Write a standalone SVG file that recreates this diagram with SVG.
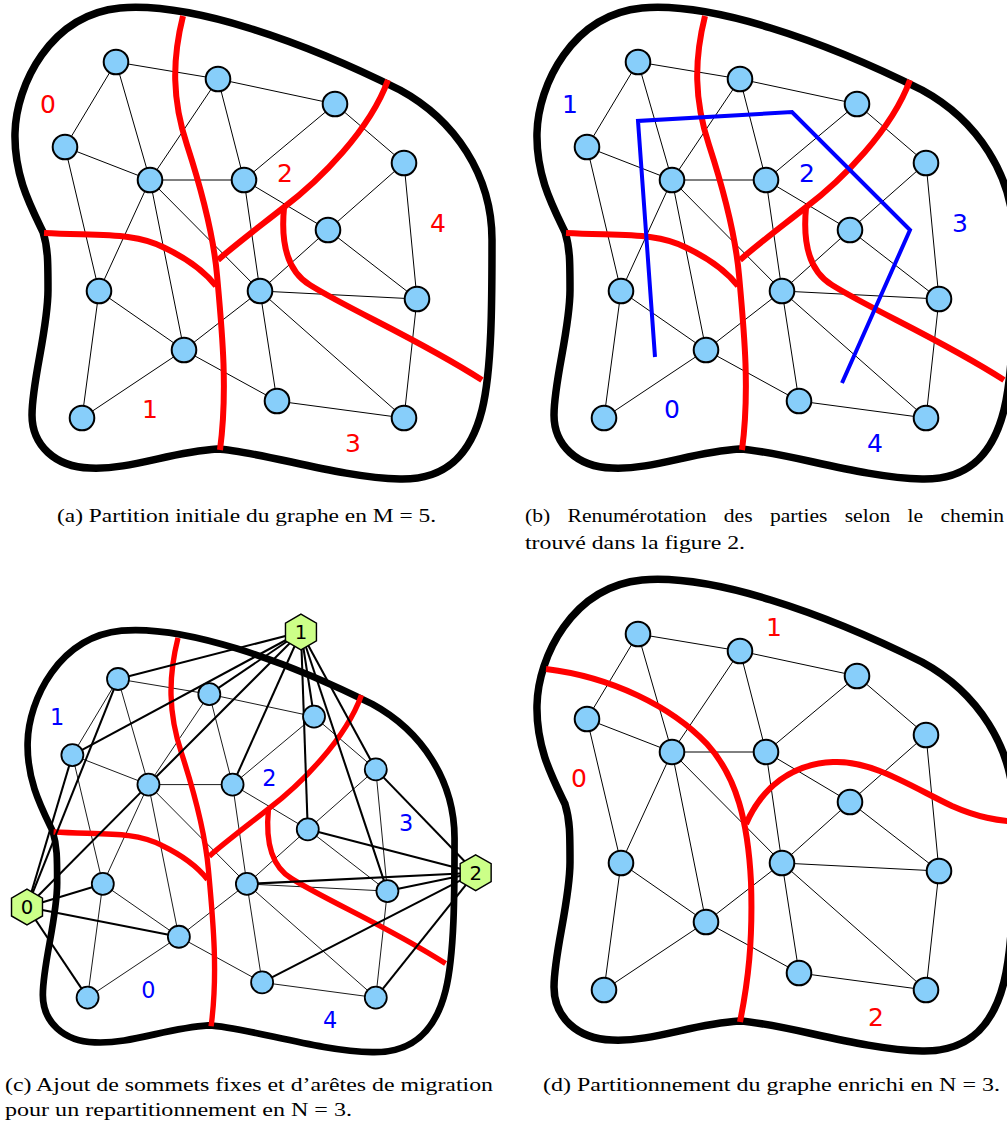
<svg xmlns="http://www.w3.org/2000/svg" xmlns:xlink="http://www.w3.org/1999/xlink" width="1007" height="1124" viewBox="0 0 1007 1124">
<style>
.bd{fill:none;stroke:#000;stroke-width:7.5;stroke-linejoin:round}
.rd{fill:none;stroke:#f00;stroke-width:6}
.bl{fill:none;stroke:#00f;stroke-width:4}
.ed{fill:none;stroke:#000;stroke-width:1}
.m line{stroke:#000;stroke-width:2.3}
.n circle{fill:#87cefa;stroke:#000;stroke-width:2}
.hx polygon{fill:#ccff88;stroke:#000;stroke-width:1.6}
.hx text{font-family:"DejaVu Sans",sans-serif;font-size:22px;fill:#000;text-anchor:middle}
.lr{font-family:"DejaVu Sans",sans-serif;font-size:25px;fill:#f00;text-anchor:middle}
.lb{font-family:"DejaVu Sans",sans-serif;font-size:25px;fill:#00f;text-anchor:middle}
.cap{font-family:"Liberation Serif","Times New Roman",serif;font-size:18px;fill:#000}
</style>
<defs>
<path id="B" d="M43,232 C30,205 14,175 15,133 C16,85 50,15 120,8 C190,2 300,40 400,90 C455,120 492,175 492,240 C492,300 492,370 482,410 C472,450 450,480 400,479 C340,478 260,451 217,449 C170,452 130,470 90,468 C55,467 32,445 32,415 C32,380 48,330 48,290 C48,262 48,248 43,232 Z"/>
<g id="R">
<path d="M183,16 C172,60 172,100 187,145 C200,185 213,230 217,275 C222,330 228,390 220,450"/>
<path d="M44,233 C100,236 135,232 165,248 C190,260 205,272 216,286"/>
<path d="M388,80 C370,130 320,180 283,208 C255,230 235,245 218,260"/>
<path d="M284,208 C281,240 285,270 310,285 C350,310 420,340 482,380"/>
</g>
<g id="E">
<line x1="116" y1="62" x2="218" y2="79"/>
<line x1="218" y1="79" x2="335" y2="104"/>
<line x1="116" y1="62" x2="65" y2="147"/>
<line x1="116" y1="62" x2="150" y2="180"/>
<line x1="218" y1="79" x2="150" y2="180"/>
<line x1="218" y1="79" x2="244" y2="180"/>
<line x1="335" y1="104" x2="244" y2="180"/>
<line x1="335" y1="104" x2="404" y2="163"/>
<line x1="65" y1="147" x2="150" y2="180"/>
<line x1="65" y1="147" x2="99" y2="291"/>
<line x1="150" y1="180" x2="244" y2="180"/>
<line x1="150" y1="180" x2="99" y2="291"/>
<line x1="150" y1="180" x2="184" y2="350"/>
<line x1="150" y1="180" x2="260" y2="291"/>
<line x1="244" y1="180" x2="260" y2="291"/>
<line x1="244" y1="180" x2="328" y2="230"/>
<line x1="404" y1="163" x2="328" y2="230"/>
<line x1="404" y1="163" x2="417" y2="299"/>
<line x1="328" y1="230" x2="260" y2="291"/>
<line x1="328" y1="230" x2="417" y2="299"/>
<line x1="99" y1="291" x2="184" y2="350"/>
<line x1="99" y1="291" x2="82" y2="418"/>
<line x1="260" y1="291" x2="417" y2="299"/>
<line x1="260" y1="291" x2="184" y2="350"/>
<line x1="260" y1="291" x2="277" y2="401"/>
<line x1="260" y1="291" x2="404" y2="418"/>
<line x1="184" y1="350" x2="82" y2="418"/>
<line x1="184" y1="350" x2="277" y2="401"/>
<line x1="417" y1="299" x2="404" y2="418"/>
<line x1="277" y1="401" x2="404" y2="418"/>
</g>
</defs>

<!-- Panel (a) -->
<g id="panel-a">
<g id="a-connectors"><use href="#E" class="ed"/></g>
<use href="#B" class="bd"/>
<use href="#R" class="rd"/>
<g class="n">
<g id="a-n1"><circle cx="116" cy="62" r="12.3"/></g>
<g id="a-n2"><circle cx="218" cy="79" r="12.3"/></g>
<g id="a-n3"><circle cx="335" cy="104" r="12.3"/></g>
<g id="a-n4"><circle cx="65" cy="147" r="12.3"/></g>
<g id="a-n5"><circle cx="150" cy="180" r="12.3"/></g>
<g id="a-n6"><circle cx="244" cy="180" r="12.3"/></g>
<g id="a-n7"><circle cx="404" cy="163" r="12.3"/></g>
<g id="a-n8"><circle cx="328" cy="230" r="12.3"/></g>
<g id="a-n9"><circle cx="99" cy="291" r="12.3"/></g>
<g id="a-n10"><circle cx="260" cy="291" r="12.3"/></g>
<g id="a-n11"><circle cx="417" cy="299" r="12.3"/></g>
<g id="a-n12"><circle cx="184" cy="350" r="12.3"/></g>
<g id="a-n13"><circle cx="82" cy="418" r="12.3"/></g>
<g id="a-n14"><circle cx="277" cy="401" r="12.3"/></g>
<g id="a-n15"><circle cx="404" cy="418" r="12.3"/></g>
</g>
<text class="lr" x="48" y="113">0</text>
<text class="lr" x="285" y="182">2</text>
<text class="lr" x="438" y="232">4</text>
<text class="lr" x="150" y="418">1</text>
<text class="lr" x="353" y="452">3</text>
</g>

<!-- Panel (b) -->
<g id="panel-b" transform="translate(522,0)">
<g id="b-connectors"><use href="#E" class="ed"/></g>
<use href="#B" class="bd"/>
<use href="#R" class="rd"/>
<polyline class="bl" points="133,357 116,121 270,112 388,230 320,383"/>
<g class="n">
<g id="b-n1"><circle cx="116" cy="62" r="12.3"/></g>
<g id="b-n2"><circle cx="218" cy="79" r="12.3"/></g>
<g id="b-n3"><circle cx="335" cy="104" r="12.3"/></g>
<g id="b-n4"><circle cx="65" cy="147" r="12.3"/></g>
<g id="b-n5"><circle cx="150" cy="180" r="12.3"/></g>
<g id="b-n6"><circle cx="244" cy="180" r="12.3"/></g>
<g id="b-n7"><circle cx="404" cy="163" r="12.3"/></g>
<g id="b-n8"><circle cx="328" cy="230" r="12.3"/></g>
<g id="b-n9"><circle cx="99" cy="291" r="12.3"/></g>
<g id="b-n10"><circle cx="260" cy="291" r="12.3"/></g>
<g id="b-n11"><circle cx="417" cy="299" r="12.3"/></g>
<g id="b-n12"><circle cx="184" cy="350" r="12.3"/></g>
<g id="b-n13"><circle cx="82" cy="418" r="12.3"/></g>
<g id="b-n14"><circle cx="277" cy="401" r="12.3"/></g>
<g id="b-n15"><circle cx="404" cy="418" r="12.3"/></g>
</g>
<text class="lb" x="48" y="113">1</text>
<text class="lb" x="285" y="182">2</text>
<text class="lb" x="438" y="232">3</text>
<text class="lb" x="150" y="418">0</text>
<text class="lb" x="353" y="452">4</text>
</g>

<!-- Panel (c) -->
<g id="panel-c" transform="translate(14.2,623.5) scale(0.895)">
<g id="c-connectors">
<use href="#E" class="ed"/>
<use href="#B" class="bd"/>
<use href="#R" class="rd"/>
<g class="m">
<line x1="320.4" y1="9.5" x2="116" y2="62"/>
<line x1="320.4" y1="9.5" x2="218" y2="79"/>
<line x1="320.4" y1="9.5" x2="335" y2="104"/>
<line x1="320.4" y1="9.5" x2="65" y2="147"/>
<line x1="320.4" y1="9.5" x2="150" y2="180"/>
<line x1="320.4" y1="9.5" x2="244" y2="180"/>
<line x1="320.4" y1="9.5" x2="404" y2="163"/>
<line x1="320.4" y1="9.5" x2="328" y2="230"/>
<line x1="320.4" y1="9.5" x2="417" y2="299"/>
<line x1="14.3" y1="316.8" x2="116" y2="62"/>
<line x1="14.3" y1="316.8" x2="65" y2="147"/>
<line x1="14.3" y1="316.8" x2="150" y2="180"/>
<line x1="14.3" y1="316.8" x2="99" y2="291"/>
<line x1="14.3" y1="316.8" x2="184" y2="350"/>
<line x1="14.3" y1="316.8" x2="82" y2="418"/>
<line x1="515.6" y1="278.4" x2="404" y2="163"/>
<line x1="515.6" y1="278.4" x2="328" y2="230"/>
<line x1="515.6" y1="278.4" x2="260" y2="291"/>
<line x1="515.6" y1="278.4" x2="417" y2="299"/>
<line x1="515.6" y1="278.4" x2="277" y2="401"/>
<line x1="515.6" y1="278.4" x2="404" y2="418"/>
</g>
</g>
<g class="n">
<g id="c-n1"><circle cx="116" cy="62" r="12.3"/></g>
<g id="c-n2"><circle cx="218" cy="79" r="12.3"/></g>
<g id="c-n3"><circle cx="335" cy="104" r="12.3"/></g>
<g id="c-n4"><circle cx="65" cy="147" r="12.3"/></g>
<g id="c-n5"><circle cx="150" cy="180" r="12.3"/></g>
<g id="c-n6"><circle cx="244" cy="180" r="12.3"/></g>
<g id="c-n7"><circle cx="404" cy="163" r="12.3"/></g>
<g id="c-n8"><circle cx="328" cy="230" r="12.3"/></g>
<g id="c-n9"><circle cx="99" cy="291" r="12.3"/></g>
<g id="c-n10"><circle cx="260" cy="291" r="12.3"/></g>
<g id="c-n11"><circle cx="417" cy="299" r="12.3"/></g>
<g id="c-n12"><circle cx="184" cy="350" r="12.3"/></g>
<g id="c-n13"><circle cx="82" cy="418" r="12.3"/></g>
<g id="c-n14"><circle cx="277" cy="401" r="12.3"/></g>
<g id="c-n15"><circle cx="404" cy="418" r="12.3"/></g>
</g>
<g class="hx">
<g id="c-fixed1" transform="translate(320.4,9.5)"><polygon points="0,-20 17.3,-10 17.3,10 0,20 -17.3,10 -17.3,-10"/><text x="0" y="8">1</text></g>
<g id="c-fixed0" transform="translate(14.3,316.8)"><polygon points="0,-20 17.3,-10 17.3,10 0,20 -17.3,10 -17.3,-10"/><text x="0" y="8">0</text></g>
<g id="c-fixed2" transform="translate(515.6,278.4)"><polygon points="0,-20 17.3,-10 17.3,10 0,20 -17.3,10 -17.3,-10"/><text x="0" y="8">2</text></g>
</g>
<text class="lb" x="48" y="113">1</text>
<text class="lb" x="285" y="182">2</text>
<text class="lb" x="438" y="232">3</text>
<text class="lb" x="150" y="418">0</text>
<text class="lb" x="353" y="452">4</text>
</g>

<!-- Panel (d) -->
<g id="panel-d" transform="translate(522,572)">
<g id="d-connectors"><use href="#E" class="ed"/></g>
<use href="#B" class="bd"/>
<path class="rd" d="M24,97 C90,105 150,135 185,172 C215,205 226,250 229,310 C231,370 226,410 218,450"/>
<path class="rd" d="M224,252 C240,215 270,192 311,190 C350,188 390,215 430,234 C455,245 475,249 500,250"/>
<g class="n">
<g id="d-n1"><circle cx="116" cy="62" r="12.3"/></g>
<g id="d-n2"><circle cx="218" cy="79" r="12.3"/></g>
<g id="d-n3"><circle cx="335" cy="104" r="12.3"/></g>
<g id="d-n4"><circle cx="65" cy="147" r="12.3"/></g>
<g id="d-n5"><circle cx="150" cy="180" r="12.3"/></g>
<g id="d-n6"><circle cx="244" cy="180" r="12.3"/></g>
<g id="d-n7"><circle cx="404" cy="163" r="12.3"/></g>
<g id="d-n8"><circle cx="328" cy="230" r="12.3"/></g>
<g id="d-n9"><circle cx="99" cy="291" r="12.3"/></g>
<g id="d-n10"><circle cx="260" cy="291" r="12.3"/></g>
<g id="d-n11"><circle cx="417" cy="299" r="12.3"/></g>
<g id="d-n12"><circle cx="184" cy="350" r="12.3"/></g>
<g id="d-n13"><circle cx="82" cy="418" r="12.3"/></g>
<g id="d-n14"><circle cx="277" cy="401" r="12.3"/></g>
<g id="d-n15"><circle cx="404" cy="418" r="12.3"/></g>
</g>
<text class="lr" x="252" y="64">1</text>
<text class="lr" x="57" y="215">0</text>
<text class="lr" x="354" y="454">2</text>
</g>

<!-- Captions -->
<g id="captions" class="cap">
<text x="57" y="522" textLength="379" lengthAdjust="spacingAndGlyphs">(a) Partition initiale du graphe en M = 5.</text>
<text x="525" y="522" textLength="479" lengthAdjust="spacingAndGlyphs" word-spacing="10">(b) Renumérotation des parties selon le chemin</text>
<text x="525" y="549" textLength="220" lengthAdjust="spacingAndGlyphs">trouvé dans la figure 2.</text>
<text x="5" y="1091" textLength="488" lengthAdjust="spacingAndGlyphs">(c) Ajout de sommets fixes et d’arêtes de migration</text>
<text x="5" y="1116" textLength="347" lengthAdjust="spacingAndGlyphs">pour un repartitionnement en N = 3.</text>
<text x="543" y="1091" textLength="457" lengthAdjust="spacingAndGlyphs">(d) Partitionnement du graphe enrichi en N = 3.</text>
</g>
</svg>
